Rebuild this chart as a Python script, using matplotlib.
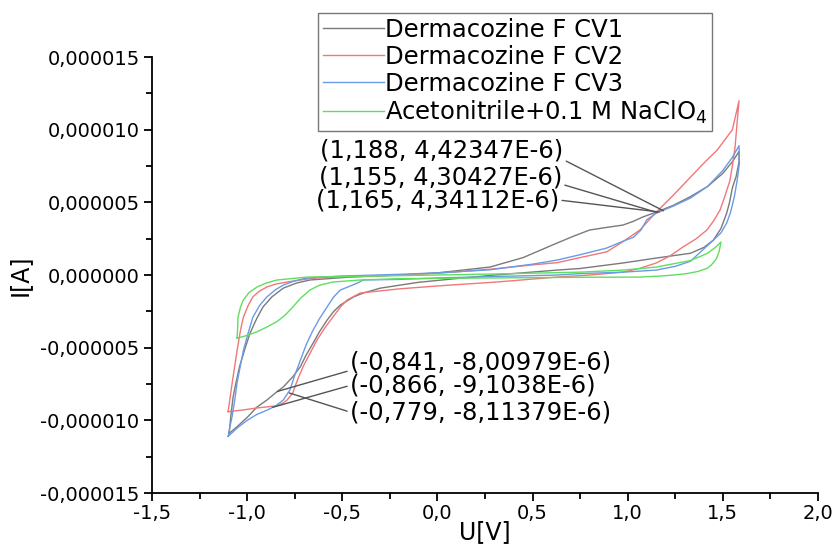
import numpy as np
import matplotlib
matplotlib.use('Agg')
import matplotlib.pyplot as plt
from matplotlib.ticker import MultipleLocator, FuncFormatter

# cyclic voltammograms, U in V, I in microamps (scaled to A below)
cv1_u = [-1.095, -1.085, -1.074, -1.057, -1.04, -1.01, -0.985, -0.95, -0.917, -0.87, -0.81, -0.74,
         -0.67, -0.46, -0.2, 0.0, 0.276, 0.45, 0.628, 0.72, 0.80, 0.90, 0.975, 1.03, 1.08, 1.15,
         1.24, 1.33, 1.42, 1.50, 1.55, 1.585,
         1.585, 1.57, 1.55, 1.535, 1.52, 1.49, 1.45, 1.40, 1.33, 1.15, 0.975, 0.749, 0.628, 0.3,
         0.134, -0.1, -0.3, -0.39, -0.44, -0.51, -0.545, -0.58, -0.62, -0.654, -0.69, -0.72,
         -0.76, -0.81, -0.85, -0.896, -0.95, -1.0, -1.05, -1.095]
cv1_i = [-10.9, -9.6, -8.4, -7.3, -6.3, -5.0, -4.0, -3.0, -2.2, -1.5, -0.9, -0.55,
         -0.34, -0.14, 0.0, 0.15, 0.55, 1.2, 2.2, 2.7, 3.1, 3.3, 3.44, 3.7, 4.0, 4.33,
         4.8, 5.4, 6.1, 7.0, 7.8, 8.5,
         7.8, 6.8, 6.0, 5.0, 4.26, 3.2, 2.4, 1.9, 1.5, 1.17, 0.83, 0.45, 0.34, 0.0,
         -0.2, -0.5, -0.9, -1.24, -1.5, -2.06, -2.5, -3.1, -3.9, -4.7, -5.5, -6.3,
         -7.0, -7.7, -8.1, -8.6, -9.1, -9.8, -10.4, -10.9]

cv2_u = [-1.10, -1.085, -1.074, -1.053, -1.035, -1.02, -0.995, -0.97, -0.935, -0.896, -0.85,
         -0.79, -0.70, -0.633, -0.5, -0.407, -0.2, 0.0, 0.276, 0.5, 0.628, 0.749, 0.89, 0.975,
         1.064, 1.15, 1.24, 1.33, 1.40, 1.47, 1.55, 1.585,
         1.575, 1.564, 1.55, 1.537, 1.51, 1.485, 1.45, 1.416, 1.36, 1.29, 1.22, 1.15, 1.06,
         0.975, 0.8, 0.628, 0.31, 0.0, -0.2, -0.407, -0.475, -0.51, -0.55, -0.59, -0.633,
         -0.67, -0.706, -0.735, -0.76, -0.79, -0.81, -0.845, -0.95, -1.03, -1.10]
cv2_i = [-9.4, -8.0, -7.0, -5.2, -3.8, -2.9, -2.1, -1.5, -1.1, -0.82, -0.62,
         -0.48, -0.3, -0.2, -0.12, -0.1, 0.0, 0.12, 0.40, 0.7, 0.85, 1.2, 1.6, 2.3,
         3.1, 4.33, 5.5, 6.74, 7.7, 8.6, 10.0, 12.0,
         10.5, 8.8, 7.5, 6.5, 5.4, 4.47, 3.7, 3.1, 2.5, 1.93, 1.3, 0.83, 0.45,
         0.2, 0.0, -0.14, -0.48, -0.75, -0.95, -1.24, -1.72, -2.2, -2.9, -3.6, -4.47,
         -5.4, -6.3, -7.2, -8.1, -8.6, -8.8, -9.0, -9.15, -9.3, -9.4]

cv3_u = [-1.10, -1.09, -1.08, -1.065, -1.053, -1.035, -1.02, -0.995, -0.97, -0.935, -0.896,
         -0.85, -0.81, -0.75, -0.685, -0.51, -0.2, 0.0, 0.276, 0.5, 0.628, 0.75, 0.89, 0.97,
         1.03, 1.07, 1.10, 1.15, 1.24, 1.33, 1.42, 1.50, 1.55, 1.585,
         1.587, 1.575, 1.56, 1.54, 1.52, 1.49, 1.45, 1.40, 1.33, 1.25, 1.15, 0.975, 0.75,
         0.628, 0.3, 0.0, -0.2, -0.39, -0.42, -0.51, -0.545, -0.58, -0.62, -0.654, -0.69,
         -0.72, -0.75, -0.775, -0.81, -0.85, -0.896, -0.95, -1.0, -1.05, -1.10]
cv3_i = [-11.1, -10.4, -9.8, -8.6, -7.4, -6.2, -5.2, -4.0, -2.9, -2.1, -1.5,
         -1.0, -0.69, -0.4, -0.2, -0.07, 0.05, 0.15, 0.36, 0.75, 1.03, 1.4, 1.86, 2.3,
         2.6, 3.1, 3.8, 4.26, 4.75, 5.3, 6.1, 7.2, 8.1, 8.9,
         7.7, 6.5, 5.37, 4.3, 3.58, 2.9, 2.4, 1.8, 0.95, 0.6, 0.34, 0.2, 0.1,
         0.0, -0.1, -0.2, -0.3, -0.34, -0.55, -1.03, -1.5, -2.2, -3.0, -3.8, -4.8,
         -5.85, -6.9, -7.9, -8.6, -9.0, -9.3, -9.6, -10.0, -10.5, -11.1]

blank_u = [-1.053, -1.05, -1.048, -1.035, -1.02, -0.99, -0.948, -0.90, -0.843, -0.685, -0.4,
           0.0, 0.4, 0.75, 0.975, 1.15, 1.33, 1.42, 1.46, 1.49,
           1.48, 1.465, 1.44, 1.42, 1.37, 1.31, 1.24, 1.17, 1.06, 0.8, 0.276, -0.2, -0.407,
           -0.55, -0.62, -0.67, -0.72, -0.76, -0.80, -0.843, -0.90, -0.948, -1.0, -1.04, -1.053]
blank_i = [-4.33, -3.6, -2.9, -2.2, -1.72, -1.2, -0.82, -0.55, -0.34, -0.14, -0.08,
           0.0, 0.1, 0.2, 0.34, 0.55, 1.0, 1.5, 1.9, 2.27,
           1.6, 1.1, 0.7, 0.48, 0.25, 0.1, 0.0, -0.07, -0.14, -0.15, -0.2, -0.25, -0.34,
           -0.48, -0.7, -1.03, -1.6, -2.2, -2.75, -3.2, -3.6, -3.9, -4.15, -4.3, -4.33]

labels = ['Dermacozine F CV1', 'Dermacozine F CV2', 'Dermacozine F CV3',
          'Acetonitrile+0.1 M NaClO$_4$']
colors = ['#7a7a7a', '#f07878', '#6a9be6', '#5ee05e']

# marked points (U, I in microamps)
peak_u = [1.188, 1.155, 1.165]
peak_i = [4.42347, 4.30427, 4.34112]
red_u = [-0.841, -0.866, -0.779]
red_i = [-8.00979, -9.1038, -8.11379]


def fmt_num(v):
    return str(v).replace('.', ',')


def fmt_y(v, pos):
    if abs(v) < 1e-12:
        return '0,000000'
    return ('%.6f' % v).replace('.', ',')


fig = plt.figure(figsize=(8.33, 5.49), dpi=100)
ax = fig.add_axes([0.1825, 0.102, 0.7995, 0.794])

series = [(cv1_u, cv1_i), (cv2_u, cv2_i), (cv3_u, cv3_i), (blank_u, blank_i)]
for (u, i), lab, c in zip(series, labels, colors):
    ax.plot(u, np.array(i) * 1e-6, color=c, lw=1.0, label=lab)

ax.set_xlim(-1.5, 2.0)
ax.set_ylim(-1.5e-5, 1.5e-5)
ax.xaxis.set_major_locator(MultipleLocator(0.5))
ax.xaxis.set_minor_locator(MultipleLocator(0.25))
ax.yaxis.set_major_locator(MultipleLocator(5e-6))
ax.yaxis.set_minor_locator(MultipleLocator(2.5e-6))
ax.xaxis.set_major_formatter(FuncFormatter(lambda v, p: ('%.1f' % v).replace('.', ',')))
ax.yaxis.set_major_formatter(FuncFormatter(fmt_y))

for s in ['top', 'right']:
    ax.spines[s].set_visible(False)
for s in ['left', 'bottom']:
    ax.spines[s].set_linewidth(1.3)
ax.tick_params(which='major', direction='out', length=6, width=1.3, labelsize=14, colors='black')
ax.tick_params(which='minor', direction='out', length=4, width=1.3)
ax.tick_params(axis='x', pad=2)
ax.tick_params(axis='y', pad=3)

ax.set_xlabel('U[V]', fontsize=17, labelpad=-2)
ax.set_ylabel('I[A]', fontsize=17, labelpad=6)

leg = ax.legend(loc='upper right', bbox_to_anchor=(712 / 833, 1 - 13 / 549),
                bbox_transform=fig.transFigure, fontsize=17.5, frameon=True, fancybox=False,
                edgecolor='#555555', borderpad=0.2, labelspacing=0.12, handlelength=2.5,
                handletextpad=0.05, borderaxespad=0)
leg.get_frame().set_linewidth(1.0)

# annotations
up_text_u = [0.662, 0.655, 0.640]
up_text_i = [8.6, 6.74, 5.16]
up_rel = [(1, 0.1), (1, 0.2), (1, 0.5)]
for u, i, tu, ti, rp in zip(peak_u, peak_i, up_text_u, up_text_i, up_rel):
    ax.annotate('(%s, %sE-6)' % (fmt_num(u), fmt_num(i)), xy=(u, i * 1e-6),
                xytext=(tu, ti * 1e-6), ha='right', va='center', fontsize=17.5,
                arrowprops=dict(arrowstyle='-', color='#555555', lw=1.0, relpos=rp,
                                shrinkA=0, shrinkB=0))

lo_text_u = [-0.46, -0.46, -0.46]
lo_text_i = [-5.99, -7.6, -9.43]
lo_rel = [(0, 0.15), (0, 0.5), (0, 0.5)]
for u, i, tu, ti, rp in zip(red_u, red_i, lo_text_u, lo_text_i, lo_rel):
    ax.annotate('(%s, %sE-6)' % (fmt_num(u), fmt_num(i)), xy=(u, i * 1e-6),
                xytext=(tu, ti * 1e-6), ha='left', va='center', fontsize=17.5,
                arrowprops=dict(arrowstyle='-', color='#555555', lw=1.0, relpos=rp,
                                shrinkA=0, shrinkB=0))

fig.savefig('out.png', dpi=100)
